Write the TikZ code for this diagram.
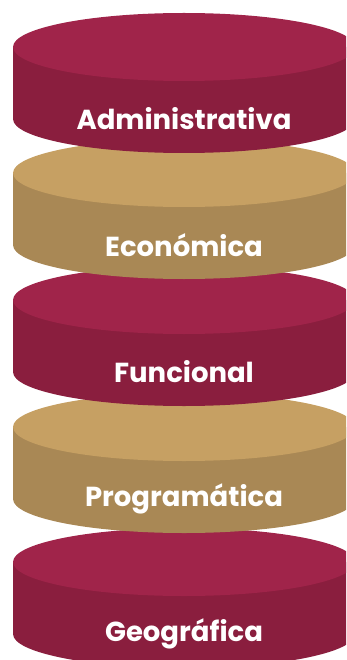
\documentclass[tikz,border=0pt]{standalone}
\usepackage{fontspec}
\newfontfamily\labelfont{Poppins}
\definecolor{crimsontop}{HTML}{A0244A}
\definecolor{crimsonside}{HTML}{8A1E3E}
\definecolor{tantop}{HTML}{C6A063}
\definecolor{tanside}{HTML}{A98855}

\begin{document}
\begin{tikzpicture}[x=1pt,y=1pt,
    disk label/.style={text=white,font=\labelfont\bfseries\fontsize{27.5}{32}\selectfont}]
    \useasboundingbox (0,0) rectangle (346,-660);
    \clip (0,0) rectangle (346,-660);

    % disks from the bottom up, so each one covers the top of the next
    \foreach \t/\topc/\sidec/\name/\txt in {562/crimsontop/crimsonside/geo/Geográfica,
                                            427/tantop/tanside/prog/Programática,
                                            300/crimsontop/crimsonside/func/Funcional,
                                            173/tantop/tanside/econ/Económica,
                                            47/crimsontop/crimsonside/admin/Administrativa}{
        \fill[\sidec] (13,-\t) -- (13,-\t-72)
            arc[start angle=180,end angle=360,x radius=171,y radius=34] -- (355,-\t) -- cycle;
        \fill[\topc] (184,-\t) ellipse[x radius=171,y radius=34];
        \node[disk label] (\name) at (184,-\t-72) {\txt};
    }
\end{tikzpicture}
\end{document}
